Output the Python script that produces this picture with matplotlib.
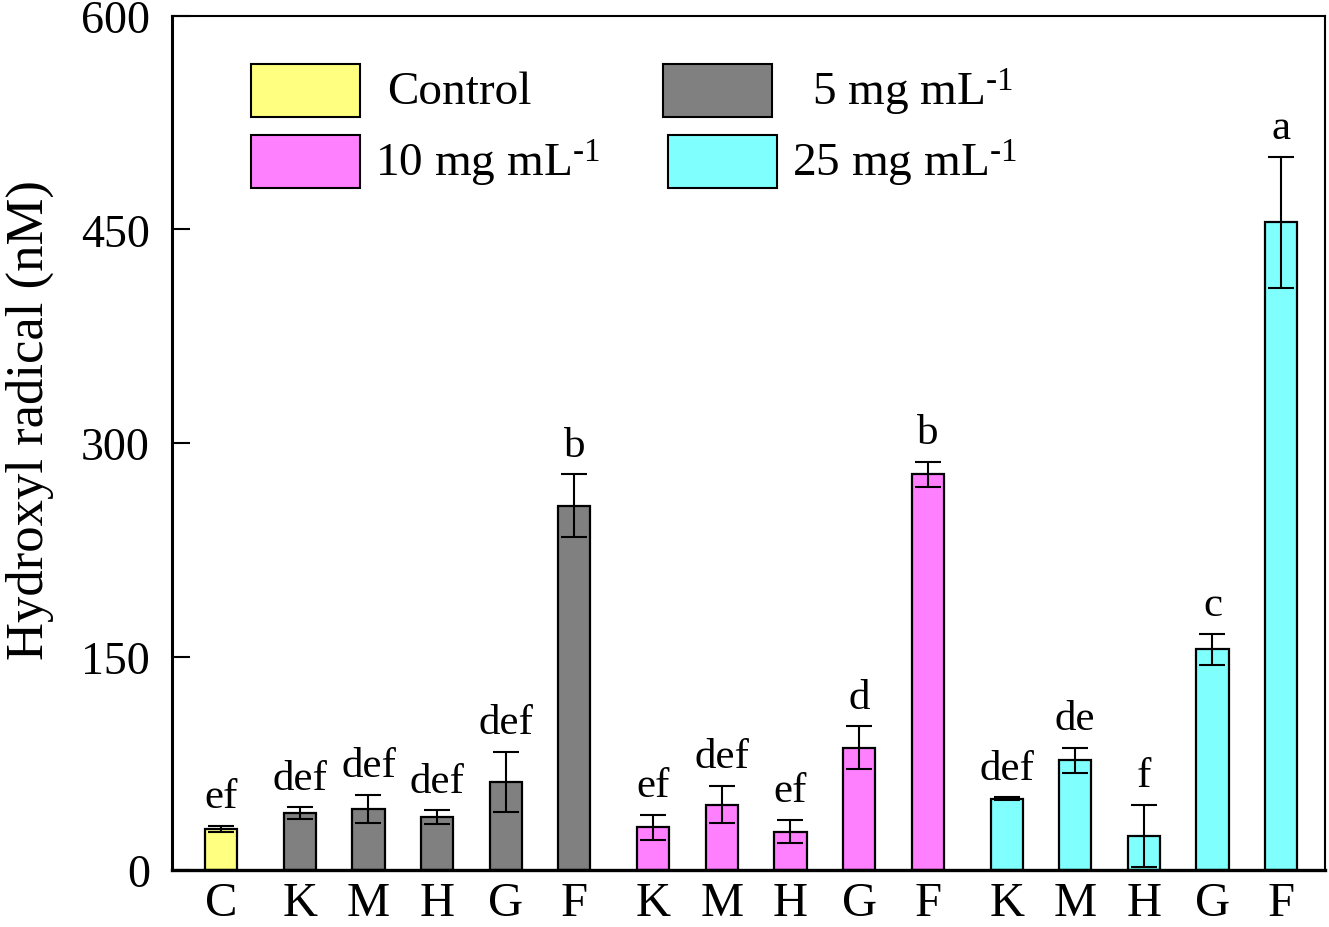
"""Hydroxyl radical bar chart with significance letters."""

import matplotlib

matplotlib.use("Agg")
import matplotlib.pyplot as plt
from matplotlib.patches import Rectangle

plt.rcParams["font.family"] = ["Liberation Serif", "DejaVu Serif"]
plt.rcParams["mathtext.fontset"] = "custom"
plt.rcParams["mathtext.rm"] = "Liberation Serif"
plt.rcParams["mathtext.it"] = "Liberation Serif:italic"
plt.rcParams["mathtext.bf"] = "Liberation Serif:bold"

# data
groups = ["Control", "5", "5", "5", "5", "5",
          "10", "10", "10", "10", "10",
          "25", "25", "25", "25", "25"]
tick_labels = ["C", "K", "M", "H", "G", "F",
               "K", "M", "H", "G", "F",
               "K", "M", "H", "G", "F"]
means = [29, 40, 43, 37, 62, 256,
         30, 46, 27, 86, 278,
         50, 77, 24, 155, 455]
errors = [2, 4, 10, 5, 21, 22,
          9, 13, 8, 15, 9,
          1, 9, 22, 11, 46]
letters = ["ef", "def", "def", "def", "def", "b",
           "ef", "def", "ef", "d", "b",
           "def", "de", "f", "c", "a"]

legend_labels = {
    "Control": "Control",
    "5": r"5 mg mL$^{\text{-1}}$",
    "10": r"10 mg mL$^{\text{-1}}$",
    "25": r"25 mg mL$^{\text{-1}}$",
}
colors = {"Control": "#FFFF80", "5": "#808080", "10": "#FF80FF", "25": "#80FFFF"}

# x positions: unit step inside a group, a little wider between groups
positions = []
x = 0.0
for i, g in enumerate(groups):
    if i > 0:
        x += 1.0 if g == groups[i - 1] else 1.15
    positions.append(x)

fig = plt.figure(figsize=(13.29, 9.28), dpi=100)
ax = fig.add_axes([0.1294, 0.0614, 0.8676, 0.9203])

ax.bar(positions, means, width=0.47,
       color=[colors[g] for g in groups], edgecolor="black", linewidth=1.6)
ax.errorbar(positions, means, yerr=errors, fmt="none", ecolor="black",
            elinewidth=1.5, capsize=9.5, capthick=1.5)

for xp, m, e, lab in zip(positions, means, errors, letters):
    ax.annotate(lab, (xp, m + e), xytext=(0, 7), textcoords="offset points",
                ha="center", va="bottom", fontsize=31)

ax.set_xlim(-0.714, 16.09)
ax.set_ylim(0, 600)
ax.set_yticks([0, 150, 300, 450, 600])
ax.set_xticks(positions)
ax.set_xticklabels(tick_labels)
ax.tick_params(axis="y", direction="in", length=13, width=1.5,
               labelsize=33, pad=16)
ax.tick_params(axis="x", length=0, labelsize=35, pad=8)
ax.set_ylabel("Hydroxyl radical (nM)", fontsize=38)
ax.yaxis.set_label_coords(-0.102, 0.528)

ax.spines["left"].set_linewidth(2.2)
ax.spines["bottom"].set_linewidth(2.4)
ax.spines["top"].set_linewidth(1.5)
ax.spines["right"].set_linewidth(1.5)

# hand-placed legend boxes, two columns
legend_items = [
    ("Control", 0.0685, 0.8817, 0.1865, 0.911),
    ("5", 0.4258, 0.8817, 0.555, 0.911),
    ("10", 0.0685, 0.7986, 0.176, 0.829),
    ("25", 0.4302, 0.7986, 0.5377, 0.829),
]
for key, bx, by, tx, ty in legend_items:
    ax.add_patch(Rectangle((bx, by), 0.0945, 0.0621, transform=ax.transAxes,
                           facecolor=colors[key], edgecolor="black",
                           linewidth=1.5, clip_on=False))
    ax.text(tx, ty, legend_labels[key], transform=ax.transAxes,
            ha="left", va="center", fontsize=34)

fig.savefig("out.png", dpi=100)
